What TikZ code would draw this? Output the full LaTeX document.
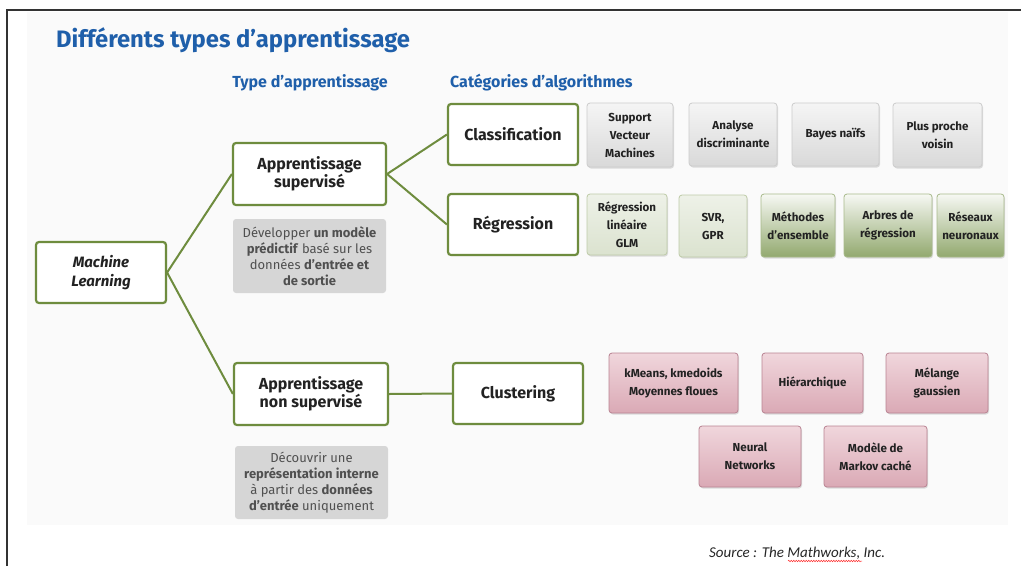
\documentclass[tikz,border=0pt]{standalone}
\usepackage{fontspec}
\setmainfont{Fira Sans}
\newfontfamily\srcfont{Carlito}
\usetikzlibrary{shadows,decorations.pathmorphing}
\definecolor{mlgreen}{HTML}{6E8C3E}
\definecolor{titleblue}{HTML}{1F5FAA}
\definecolor{txtdark}{HTML}{222222}
\definecolor{panelgrey}{HTML}{FAFAFA}
\definecolor{descgrey}{HTML}{D6D6D6}
\definecolor{desctxt}{HTML}{505050}
\definecolor{pinkline}{HTML}{B98392}
\definecolor{pinktop}{HTML}{F0D6DC}
\definecolor{pinkbot}{HTML}{DAA9B5}
\tikzset{
  tbox/.style={draw=mlgreen, line width=2.2pt, fill=white, rounded corners=3pt,
    align=center, inner sep=0pt, text=txtdark,
    font=\bfseries\fontsize{16}{18.5}\selectfont,
    drop shadow={opacity=0.15, shadow xshift=1pt, shadow yshift=-1pt}},
  desc/.style={fill=descgrey, rounded corners=3pt, align=center, inner sep=0pt,
    text=desctxt, font=\fontsize{13}{16}\selectfont},
  alg/.style={rounded corners=3pt, align=center, inner sep=0pt, text=txtdark,
    line width=0.8pt, font=\bfseries\fontsize{11.6}{18}\selectfont,
    drop shadow={opacity=0.25, shadow xshift=1pt, shadow yshift=-1.5pt}},
  greyalg/.style={alg, draw=black!20, top color=black!4, bottom color=black!15},
  lgreenalg/.style={alg, draw=mlgreen!45, top color=mlgreen!12, bottom color=mlgreen!25},
  dgreenalg/.style={alg, draw=mlgreen!60, top color=mlgreen!6, middle color=mlgreen!15, bottom color=mlgreen!75},
  pinkalg/.style={alg, draw=pinkline, top color=pinktop, bottom color=pinkbot},
  conn/.style={draw=mlgreen, line width=2pt},
  hdr/.style={text=titleblue, font=\bfseries\fontsize{16}{18}\selectfont, inner sep=0pt},
}
\begin{document}
\begin{tikzpicture}[x=1pt, y=-1pt]
\useasboundingbox (0,0) rectangle (1021,566);
% background panel and frame
\fill[panelgrey] (27,12) rectangle (1008,525);
\draw[black!80, line width=1.2pt] (7,566) -- (7,10) -- (1021,10);
% headings
\node[anchor=west, text=titleblue, font=\bfseries\fontsize{23.8}{27}\selectfont, inner sep=0pt] (title) at (56,40) {Différents types d’apprentissage};
\node[hdr] (h1) at (310,83) {Type d’apprentissage};
\node[hdr, anchor=west] (h2) at (450,83) {Catégories d’algorithmes};
% main tree
\node[tbox, minimum width=130, minimum height=61, font=\bfseries\itshape\fontsize{15}{18.5}\selectfont] (ml) at (101,272.5) {Machine\\Learning};
\node[tbox, minimum width=153, minimum height=62] (sup) at (309.5,174) {Apprentissage\\supervisé};
\node[desc, minimum width=153, minimum height=74] (d1) at (309.5,256) {Développer \textbf{un modèle}\\\textbf{prédictif} basé sur les\\données \textbf{d’entrée et}\\\textbf{de sortie}};
\node[tbox, minimum width=154, minimum height=62] (unsup) at (311,394) {Apprentissage\\non supervisé};
\node[desc, minimum width=153, minimum height=73] (d2) at (311.5,482.5) {Découvrir une\\\textbf{représentation interne}\\à partir des \textbf{données}\\\textbf{d’entrée} uniquement};
\node[tbox, minimum width=130, minimum height=61] (clf) at (513,134.5) {Classification};
\node[tbox, minimum width=130, minimum height=61] (reg) at (513,224.5) {Régression};
\node[tbox, minimum width=130, minimum height=61] (clu) at (518,393.5) {Clustering};
% connectors
\draw[conn] (ml.east) -- (sup.west);
\draw[conn] (ml.east) -- (unsup.west);
\draw[conn] (sup.east) -- (clf.west);
\draw[conn] (sup.east) -- (reg.west);
\draw[conn] (unsup.east) -- (clu.west);
% classification algorithms
\node[greyalg, minimum width=86, minimum height=64] (svm) at (630,135) {Support\\Vecteur\\Machines};
\node[greyalg, minimum width=88, minimum height=63] (ad) at (733,134.5) {Analyse\\discriminante};
\node[greyalg, minimum width=87, minimum height=63] (bn) at (835.5,134.5) {Bayes naïfs};
\node[greyalg, minimum width=89, minimum height=64] (ppv) at (937.5,135) {Plus proche\\voisin};
% regression algorithms
\node[lgreenalg, minimum width=80, minimum height=61] (rl) at (627,224.5) {Régression\\linéaire\\GLM};
\node[lgreenalg, minimum width=68, minimum height=62] (svr) at (713,226) {SVR,\\GPR};
\node[dgreenalg, minimum width=74, minimum height=63] (me) at (798,225.5) {Méthodes\\d’ensemble};
\node[dgreenalg, minimum width=88, minimum height=63] (ar) at (888,225.5) {Arbres de\\régression};
\node[dgreenalg, minimum width=67, minimum height=63] (rn) at (970.5,225.5) {Réseaux\\neuronaux};
% clustering algorithms
\node[pinkalg, minimum width=129, minimum height=60] (km) at (673.5,383) {kMeans, kmedoids\\Moyennes floues};
\node[pinkalg, minimum width=101, minimum height=60] (hi) at (812.5,383) {Hiérarchique};
\node[pinkalg, minimum width=102, minimum height=60] (mg) at (937,383) {Mélange\\gaussien};
\node[pinkalg, minimum width=102, minimum height=61] (nn) at (750,456.5) {Neural\\Networks};
\node[pinkalg, minimum width=103, minimum height=61] (mk) at (875.5,456.5) {Modèle de\\Markov caché};
% source
\node[anchor=west, inner sep=0pt, font=\srcfont\itshape\fontsize{15}{17}\selectfont, text=black!85] (src) at (709,553) {Source : The Mathworks, Inc.};
\coordinate (w1) at (788,561);
\coordinate (w2) at (862,561);
\draw[red!80, line width=0.5pt, decorate, decoration={snake, amplitude=0.8pt, segment length=2.5pt}] (w1) -- (w2);
\end{tikzpicture}
\end{document}
